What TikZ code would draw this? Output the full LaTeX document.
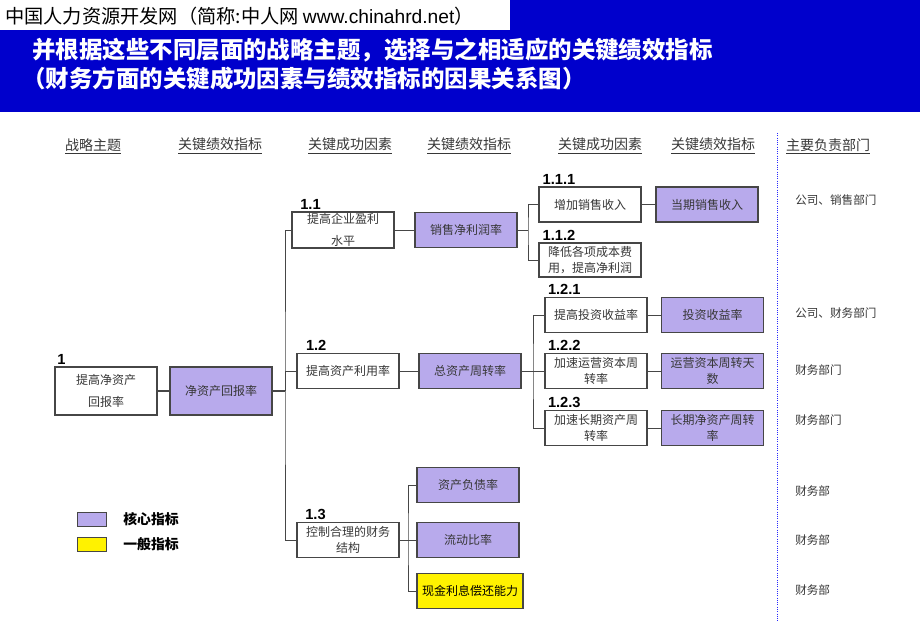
\documentclass[tikz,border=0pt]{standalone}
\usepackage{fontspec}
\setmainfont{Noto Sans CJK SC}
\newfontfamily\lat{Liberation Sans}
\definecolor{kpi}{RGB}{184,170,236}
\definecolor{hdrblue}{RGB}{0,0,204}
\definecolor{txt}{RGB}{55,55,55}
\definecolor{edge}{RGB}{70,70,70}
\definecolor{dotblue}{RGB}{40,40,255}
\begin{document}
\begin{tikzpicture}[x=0.75pt,y=-0.75pt,
  box/.style={draw=edge, line width=0.9pt, fill=white, minimum width=76.5pt, minimum height=26.25pt, inner sep=1pt, align=center, text=txt, font=\fontsize{9}{11.5}\selectfont},
  kbox/.style={box, fill=kpi},
  ybox/.style={box, fill=yellow, text=black},
  num/.style={anchor=south west, inner sep=0pt, yshift=1.5pt, font=\lat\bfseries\fontsize{11}{12}\selectfont},
  colhd/.style={font=\fontsize{10.5}{12}\selectfont, text=txt, inner sep=0pt},
  dept/.style={anchor=west, inner sep=0pt, font=\fontsize{8.7}{10}\selectfont, text=txt},
  conn/.style={draw=edge, line width=0.7pt},
  legbox/.style={draw=edge, line width=0.7pt, minimum width=21.75pt, minimum height=10.5pt, inner sep=0pt},
  legtxt/.style={anchor=west, inner sep=0pt, font=\bfseries\fontsize{10.4}{12}\selectfont},
]
\useasboundingbox (0,0) rectangle (920,637);
\fill[white] (0,0) rectangle (920,637);
% header
\fill[hdrblue] (0,0) rectangle (920,112);
\fill[white] (0,0) rectangle (510,30);
\node[anchor=west, inner sep=0pt, font=\fontsize{14.4}{16}\selectfont] (site) at (5,16) {中国人力资源开发网（简称:中人网 {\lat www.chinahrd.net}）};
\node[anchor=west, inner sep=0pt, text=white, font=\bfseries\fontsize{17.6}{20}\selectfont] (t1) at (32,50) {并根据这些不同层面的战略主题，选择与之相适应的关键绩效指标};
\node[anchor=west, inner sep=0pt, text=white, font=\bfseries\fontsize{17.6}{20}\selectfont] (t2) at (22,79) {（财务方面的关键成功因素与绩效指标的因果关系图）};

% column headers
\node[colhd] (h1) at (93,146) {\underline{战略主题}};
\node[colhd] (h2) at (220,146) {\underline{关键绩效指标}};
\node[colhd] (h3) at (350,146) {\underline{关键成功因素}};
\node[colhd] (h4) at (469,146) {\underline{关键绩效指标}};
\node[colhd] (h5) at (600,146) {\underline{关键成功因素}};
\node[colhd] (h6) at (713,146) {\underline{关键绩效指标}};
\node[colhd] (h7) at (828,146) {\underline{主要负责部门}};

% dotted separator
\coordinate (d1) at (777,133);
\coordinate (d2) at (777,621);
\draw[dotblue, densely dotted, line width=0.7pt] (d1) -- (d2);

% boxes
\node[box, minimum height=36pt] (b1) at (106,391) {提高净资产\\[5pt]回报率};
\node[kbox, minimum height=36pt] (k1) at (221,391) {净资产回报率};

\node[box] (b11) at (343,230) {提高企业盈利\\[5pt]水平};
\node[kbox] (k11) at (466,230) {销售净利润率};
\node[box] (b111) at (590,204.5) {增加销售收入};
\node[kbox] (k111) at (707,204.5) {当期销售收入};
\node[box, minimum height=25.5pt] (b112) at (590,260) {降低各项成本费\\用，提高净利润};

\node[box] (b12) at (348,371) {提高资产利用率};
\node[kbox] (k12) at (470,371) {总资产周转率};
\node[box] (b121) at (596,315) {提高投资收益率};
\node[kbox] (k121) at (712.5,315) {投资收益率};
\node[box] (b122) at (596,371) {加速运营资本周\\转率};
\node[kbox] (k122) at (712.5,371) {运营资本周转天\\数};
\node[box] (b123) at (596,428) {加速长期资产周\\转率};
\node[kbox] (k123) at (712.5,428) {长期净资产周转\\率};

\node[box] (b13) at (348,540) {控制合理的财务\\结构};
\node[kbox] (k131) at (468,485) {资产负债率};
\node[kbox] (k132) at (468,540) {流动比率};
\node[ybox, minimum width=79.5pt] (k133) at (470,591) {现金利息偿还能力};

% numbers
\node[num, xshift=2pt] (n1) at (b1.north west) {1};
\node[num, xshift=6.5pt] (n11) at (b11.north west) {1.1};
\node[num, xshift=3pt] (n111) at (b111.north west) {1.1.1};
\node[num, xshift=3pt] (n112) at (b112.north west) {1.1.2};
\node[num, xshift=7pt] (n12) at (b12.north west) {1.2};
\node[num, xshift=2.5pt] (n121) at (b121.north west) {1.2.1};
\node[num, xshift=2.5pt] (n122) at (b122.north west) {1.2.2};
\node[num, xshift=2.5pt] (n123) at (b123.north west) {1.2.3};
\node[num, xshift=6.5pt] (n13) at (b13.north west) {1.3};

% connectors
\coordinate (jt) at (285,391);
\coordinate (j11) at (528,230);
\coordinate (j12) at (533,371);
\coordinate (j13) at (408,540);
\draw[conn, line width=1.1pt] (b1) -- (k1);
\draw[conn, line width=1.2pt] (k1.east) -- (jt);
\draw[conn] (b11.west) -| (jt) |- (b13.west);
\draw[conn] (jt) |- (b12.west);
\draw[conn] (b11) -- (k11);
\draw[conn] (b12) -- (k12);
\draw[conn] (k11.east) -- (j11);
\draw[conn] (b111.west) -| (j11) |- (b112.west);
\draw[conn] (b111) -- (k111);
\draw[conn] (k12.east) -- (j12);
\draw[conn] (b121.west) -| (j12) |- (b123.west);
\draw[conn] (j12) -- (b122.west);
\draw[conn] (b121) -- (k121);
\draw[conn] (b122) -- (k122);
\draw[conn] (b123) -- (k123);
\draw[conn] (b13.east) -- (j13);
\draw[conn] (k131.west) -| (j13) |- (k133.west);
\draw[conn] (j13) -- (k132.west);

% legend
\node[legbox, fill=kpi] (lg1) at (91.5,519) {};
\node[legtxt] (lt1) at (123,519) {核心指标};
\node[legbox, fill=yellow] (lg2) at (91.5,544) {};
\node[legtxt] (lt2) at (123,544) {一般指标};

% departments
\node[dept] (p1) at (795,200) {公司、销售部门};
\node[dept] (p2) at (795,313) {公司、财务部门};
\node[dept] (p3) at (795,370) {财务部门};
\node[dept] (p4) at (795,420) {财务部门};
\node[dept] (p5) at (795,491) {财务部};
\node[dept] (p6) at (795,540) {财务部};
\node[dept] (p7) at (795,590) {财务部};
\end{tikzpicture}
\end{document}
